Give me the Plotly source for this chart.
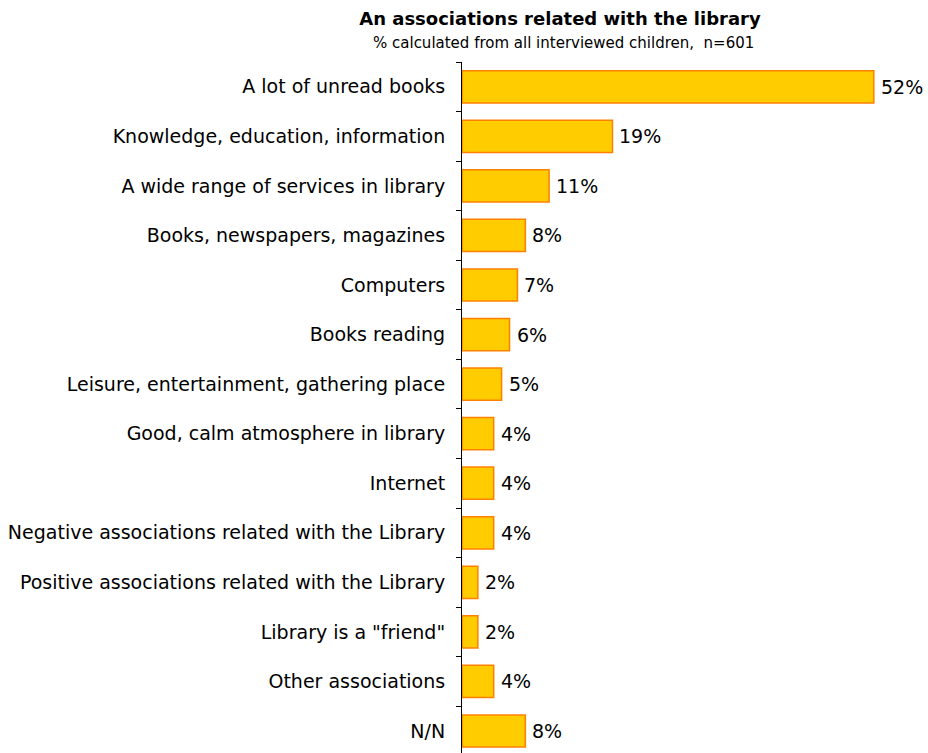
import plotly.graph_objects as go

categories = [
    "A lot of unread books",
    "Knowledge, education, information",
    "A wide range of services in library",
    "Books, newspapers, magazines",
    "Computers",
    "Books reading",
    "Leisure, entertainment, gathering place",
    "Good, calm atmosphere in library",
    "Internet",
    "Negative associations related with the Library",
    "Positive associations related with the Library",
    'Library is a "friend"',
    "Other associations",
    "N/N",
]
values = [52, 19, 11, 8, 7, 6, 5, 4, 4, 4, 2, 2, 4, 8]
labels = [f"{v}%" for v in values]

FONT = "DejaVu Sans"

# bottom-to-top order so the first category sits at the top
cats_bt = categories[::-1]
vals_bt = values[::-1]
labs_bt = labels[::-1]

fig = go.Figure()
fig.add_trace(go.Bar(
    x=vals_bt,
    y=cats_bt,
    orientation="h",
    width=0.65,
    marker=dict(color="#FFCC00", line=dict(color="#FF8000", width=1.5)),
    hoverinfo="skip",
))

for c, v, t in zip(cats_bt, vals_bt, labs_bt):
    fig.add_annotation(
        x=v, y=c, text=t, showarrow=False,
        xanchor="left", yanchor="middle", xshift=5,
        font=dict(family=FONT, size=19, color="#000000"),
    )

fig.update_layout(
    width=928, height=753,
    margin=dict(l=462, r=0, t=62, b=0),
    paper_bgcolor="white", plot_bgcolor="white",
    showlegend=False,
    bargap=0.35,
    font=dict(family=FONT, size=19, color="#000000"),
    title=dict(
        text="<b>An associations related with the library</b>",
        x=560 / 928, xanchor="center", xref="container",
        y=1 - 19 / 753, yanchor="middle", yref="container",
        font=dict(family=FONT, size=18, color="#000000"),
    ),
)

fig.add_annotation(
    text="% calculated from all interviewed children,  n=601",
    xref="paper", yref="paper",
    x=(563 - 462) / 466, y=1 + (62 - 43) / 691,
    xanchor="center", yanchor="middle", showarrow=False,
    font=dict(family=FONT, size=15, color="#000000"),
)

fig.update_xaxes(
    range=[0, 466 / 7.92], visible=False, showgrid=False, zeroline=False,
)
fig.update_yaxes(
    type="category",
    categoryorder="array", categoryarray=cats_bt,
    range=[-0.444, 13.5],
    showline=True, linecolor="#000000", linewidth=1,
    ticks="outside", ticklen=5, tickcolor="#000000", tickson="boundaries",
    ticklabelstandoff=12,
    showgrid=False, zeroline=False,
    tickfont=dict(family=FONT, size=19, color="#000000"),
)

fig.write_html("out.html")
